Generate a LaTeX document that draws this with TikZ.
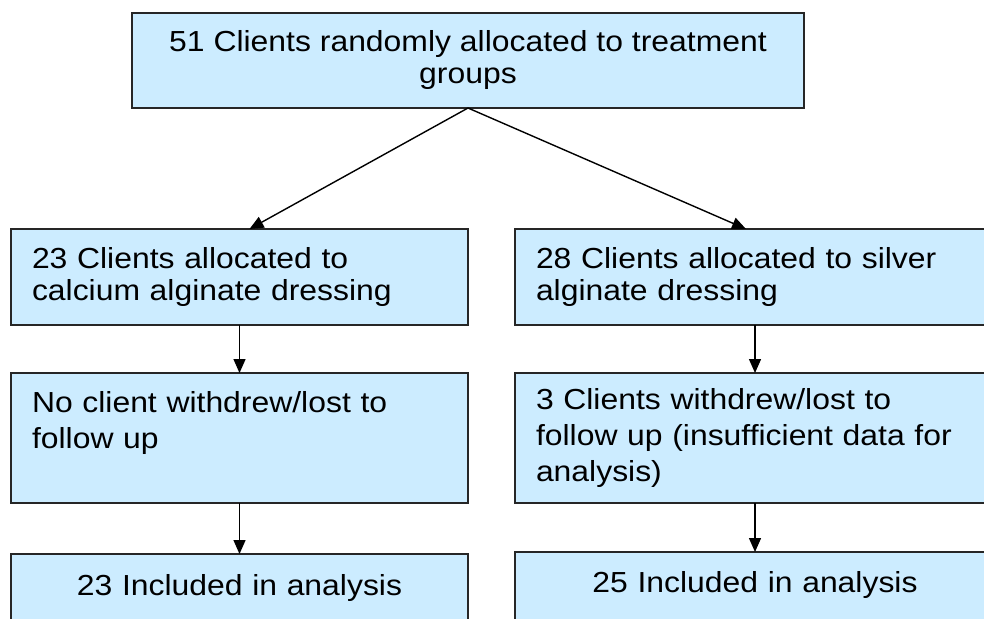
\documentclass[tikz,border=0pt]{standalone}
\usepackage{fontspec}
\setmainfont[FakeStretch=1.1]{Liberation Sans}
\usetikzlibrary{arrows.meta}
\definecolor{boxblue}{RGB}{204,236,255}
\begin{document}
\begin{tikzpicture}
  [x=1pt,y=-1pt,
   box/.style={rectangle,draw=black!85,line width=1.6pt,fill=boxblue,
               anchor=north west,inner xsep=21pt,inner ysep=0pt,outer sep=0,
               align=left,font=\fontsize{29}{32}\selectfont},
   leftbox/.style={box,minimum width=457pt,text width=415pt},
   rightbox/.style={box,minimum width=480pt,text width=438pt},
   result/.style={text height=41pt,text depth=40pt,align=center},
   flow/.style={line width=1.4pt,-{Triangle[width=12pt,length=14pt]}}]
  \useasboundingbox (0,0) rectangle (984,618);
  \node[box,align=center,minimum width=672pt,minimum height=95pt] (rand) at (132,13)
    {51 Clients randomly allocated to treatment\\groups};
  \node[leftbox,minimum height=96pt] (calc) at (11,229)
    {23 Clients allocated to\\calcium alginate dressing};
  \node[rightbox,minimum height=96pt] (silv) at (515,229)
    {28 Clients allocated to silver\\alginate dressing};
  \node[leftbox,minimum height=130pt,font=\fontsize{29}{36}\selectfont] (calclost) at (11,373)
    {No client withdrew/lost to\\follow up\\\mbox{}};
  \node[rightbox,minimum height=130pt,font=\fontsize{29}{36}\selectfont] (silvlost) at (515,373)
    {3 Clients withdrew/lost to\\follow up (insufficient data for\\analysis)};
  \node[leftbox,result] (calcin) at (11,554) {23 Included in analysis};
  \node[rightbox,result,text height=40pt] (silvin) at (515,552) {25 Included in analysis};
  \draw[flow] (rand.south) to ([xshift=10pt]calc.north);
  \draw[flow] (rand.south) to ([xshift=-9pt]silv.north);
  \draw[flow] (calc) to (calclost);
  \draw[flow] (silv) to (silvlost);
  \draw[flow] (calclost) to (calcin);
  \draw[flow] (silvlost) to (silvin);
\end{tikzpicture}
\end{document}
